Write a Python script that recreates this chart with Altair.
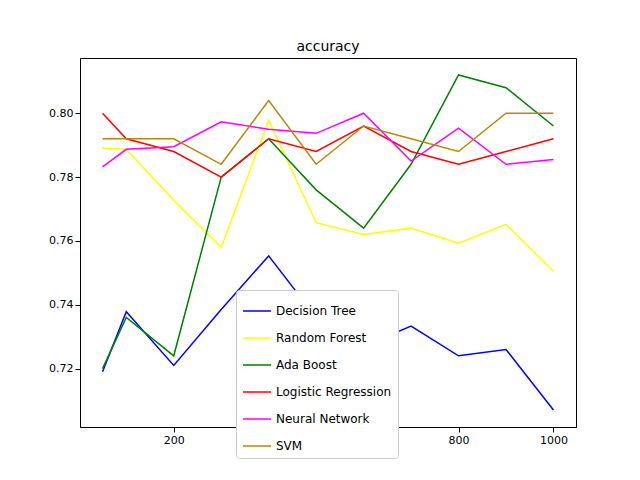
import pandas as pd
import altair as alt

x_vals = [50, 100, 200, 300, 400, 500, 600, 700, 800, 900, 1000]
models = ["Decision Tree", "Random Forest", "Ada Boost", "Logistic Regression", "Neural Network", "SVM"]
colors = ["blue", "yellow", "green", "red", "magenta", "#b8860b"]

decision_tree = [0.719, 0.7378, 0.721, 0.7385, 0.7553, 0.736, 0.727, 0.7333, 0.724, 0.726, 0.707]
random_forest = [0.789, 0.7887, 0.7727, 0.758, 0.7978, 0.7657, 0.762, 0.764, 0.7593, 0.7652, 0.7505]
ada_boost = [0.72, 0.736, 0.724, 0.780, 0.792, 0.776, 0.764, 0.784, 0.812, 0.808, 0.796]
logistic = [0.80, 0.792, 0.788, 0.780, 0.792, 0.788, 0.796, 0.788, 0.784, 0.788, 0.792]
neural = [0.7832, 0.7887, 0.7895, 0.7973, 0.795, 0.7937, 0.80, 0.785, 0.7953, 0.784, 0.7855]
svm = [0.792, 0.792, 0.792, 0.784, 0.804, 0.784, 0.796, 0.792, 0.788, 0.80, 0.80]

series = [decision_tree, random_forest, ada_boost, logistic, neural, svm]
rows = []
for name, vals in zip(models, series):
    for x, v in zip(x_vals, vals):
        rows.append({"n": x, "accuracy": v, "model": name})
data = pd.DataFrame(rows)

chart = alt.Chart(data).mark_line(strokeWidth=1.5, clip=True).encode(
    x=alt.X("n:Q", scale=alt.Scale(domain=[2.5, 1047.5], nice=False, zero=False),
            axis=alt.Axis(title=None, values=[200, 400, 600, 800, 1000], format="d", grid=False,
                          tickColor="black", domainColor="black", labelColor="black",
                          labelFontSize=11, labelFont="DejaVu Sans")),
    y=alt.Y("accuracy:Q", scale=alt.Scale(domain=[0.7017, 0.8173], nice=False, zero=False),
            axis=alt.Axis(title=None, values=[0.72, 0.74, 0.76, 0.78, 0.80], format=".2f", grid=False,
                          tickColor="black", domainColor="black", labelColor="black",
                          labelFontSize=11, labelFont="DejaVu Sans")),
    color=alt.Color("model:N", scale=alt.Scale(domain=models, range=colors),
                    legend=alt.Legend(title=None, orient="none", legendX=156, legendY=232,
                                      symbolType="stroke", symbolSize=784, symbolStrokeWidth=1.5,
                                      labelFontSize=12, labelFont="DejaVu Sans", labelColor="black",
                                      strokeColor="#cccccc", padding=6, cornerRadius=3,
                                      fillColor="white", rowPadding=6)),
    detail="model:N",
).properties(
    width=496, height=369,
    title=alt.TitleParams("accuracy", fontSize=14, fontWeight="normal", font="DejaVu Sans"),
    padding={"left": 72, "top": 50, "right": 56, "bottom": 45},
    autosize=alt.AutoSizeParams(type="none"),
).configure_view(stroke="black", strokeWidth=1)

chart.save("out.html", embed_options={"renderer": "svg", "actions": False})
